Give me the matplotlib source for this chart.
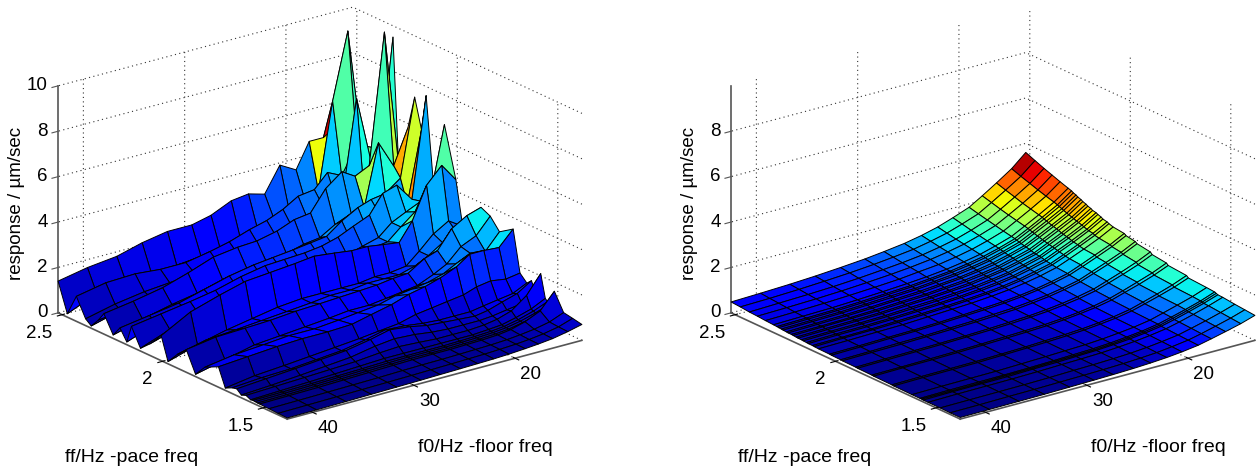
import numpy as np
from matplotlib import pyplot as plt
from mpl_toolkits.mplot3d import proj3d

plt.rcParams['font.family'] = ['Liberation Sans', 'DejaVu Sans']
plt.rcParams['grid.linestyle'] = (0, (1, 3))
plt.rcParams['grid.color'] = '#333333'
plt.rcParams['grid.linewidth'] = 0.8

# floor frequency grid, shared by both surfaces
f0_grid = [42.5, 39.6, 36.7, 34.2, 31.7, 29.3, 27.4, 25.4, 23.7, 22.1, 20.6, 19.0, 17.7, 16.3, 14.8, 13.4]

# measured response, one row per pace frequency
ff_measured = [2.52, 2.474, 2.429, 2.383, 2.355, 2.32, 2.292, 2.246, 2.212, 2.178, 2.155, 2.11, 2.064, 2.007,
               1.973, 1.927, 1.882, 1.836, 1.79, 1.722, 1.688, 1.654, 1.631, 1.608, 1.585, 1.562, 1.551, 1.54,
               1.528, 1.517, 1.471, 1.426, 1.38]
z_measured = [
    [1.4, 1.65, 1.8, 2.1, 2.3, 2.3, 2.5, 2.9, 3.0, 2.8, 3.9, 3.5, 4.6, 4.6, 5.0, 5.0],
    [.15, .7, .85, .95, 1.0, 1.1, 1.2, 1.4, 1.6, 1.9, 2.1, 2.3, 2.6, 6.4, 9.3, 4.0],
    [1.1, 1.35, 1.4, 1.3, 1.3, 1.5, 1.7, 2.0, 2.2, 2.5, 2.9, 3.0, 3.6, 3.3, 4.5, 4.2],
    [.3, .6, .8, .9, 1.0, 1.1, 1.3, 1.5, 1.7, 1.9, 2.1, 2.4, 2.5, 2.9, 3.6, 5.0],
    [.1, .45, .7, .85, 1.0, 1.2, 1.4, 1.5, 1.7, 1.9, 2.2, 2.6, 2.8, 7.0, 3.9, 4.0],
    [.5, .7, .9, 1.1, 1.3, 1.5, 1.7, 1.8, 2.0, 2.2, 2.6, 3.0, 3.0, 3.2, 3.8, 9.5],
    [.9, 1.1, 1.35, 1.7, 2.1, 2.25, 2.3, 2.5, 2.8, 2.9, 3.8, 4.35, 4.0, 4.3, 10.0, 4.0],
    [.15, .5, .8, 1.0, 1.3, 1.5, 1.6, 1.7, 1.9, 2.0, 2.4, 2.7, 2.8, 5.5, 4.3, 5.8],
    [.6, .8, 1.0, 1.3, 1.6, 1.8, 1.9, 2.0, 2.1, 2.2, 2.7, 3.1, 3.3, 3.4, 3.9, 7.3],
    [.12, .6, .9, 1.1, 1.3, 1.5, 1.6, 1.7, 1.8, 1.9, 2.2, 2.5, 2.9, 3.0, 2.9, 6.0],
    [.9, 1.1, 1.3, 1.5, 1.8, 2.0, 2.05, 2.1, 2.2, 2.4, 2.7, 3.0, 3.8, 4.0, 3.2, 7.6],
    [.12, .6, .9, 1.1, 1.2, 1.4, 1.5, 1.6, 1.7, 1.8, 2.0, 2.2, 2.7, 3.0, 3.3, 3.0],
    [.5, .9, 1.2, 1.5, 1.7, 1.8, 1.9, 1.9, 2.0, 2.0, 2.1, 2.2, 2.7, 3.2, 3.7, 6.7],
    [1.1, 1.8, 2.2, 2.5, 2.6, 2.7, 2.8, 2.7, 2.6, 2.6, 2.5, 2.4, 3.2, 4.6, 5.3, 4.5],
    [.1, .5, .8, 1.0, 1.2, 1.3, 1.3, 1.3, 1.3, 1.4, 1.4, 1.5, 2.0, 2.6, 3.0, 2.6],
    [.6, .9, 1.0, 1.1, 1.2, 1.3, 1.4, 1.4, 1.5, 1.5, 1.5, 1.7, 2.0, 2.4, 2.6, 2.3],
    [1.0, 1.2, 1.25, 1.3, 1.4, 1.45, 1.5, 1.55, 1.6, 1.7, 1.75, 2.2, 2.4, 3.2, 3.6, 3.8],
    [.1, .4, .7, .8, .9, 1.0, 1.1, 1.1, 1.2, 1.3, 1.4, 1.7, 2.0, 2.6, 2.9, 3.6],
    [.6, .8, .9, 1.0, 1.0, 1.1, 1.2, 1.3, 1.5, 1.6, 1.7, 1.9, 2.2, 2.5, 2.4, 3.1],
    [.9, 1.0, 1.1, 1.15, 1.15, 1.2, 1.4, 1.6, 1.85, 2.0, 2.2, 2.5, 2.9, 2.9, 2.85, 3.5],
    [.1, .3, .4, .5, .6, .7, .8, .9, 1.1, 1.2, 1.3, 1.4, 1.6, 1.7, 1.6, 1.7],
    [.25, .35, .4, .5, .6, .8, 1.0, .95, .85, .8, .8, .8, .9, 1.0, 1.1, 1.4],
    [.3, .4, .5, .6, .7, .9, 1.1, 1.0, .85, .8, .75, .7, .8, 1.0, 1.2, 1.6],
    [.12, .2, .3, .4, .5, .7, .8, .75, .65, .6, .6, .6, .65, .75, .85, 1.1],
    [.2, .25, .3, .35, .4, .5, .55, .5, .45, .45, .45, .5, .6, .8, 1.3, 2.1],
    [.1, .15, .2, .25, .3, .35, .35, .35, .35, .35, .35, .4, .45, .6, .8, 1.1],
    [.12, .14, .17, .2, .23, .27, .28, .28, .28, .3, .32, .36, .42, .55, .75, 1.0],
    [.11, .13, .16, .19, .22, .25, .27, .27, .27, .29, .31, .35, .41, .53, .72, .95],
    [.1, .12, .15, .18, .21, .24, .26, .26, .26, .28, .3, .34, .4, .52, .7, .9],
    [.1, .12, .14, .17, .2, .23, .25, .26, .26, .28, .3, .34, .42, .6, .9, 1.6],
    [.08, .1, .12, .14, .16, .19, .21, .22, .24, .26, .28, .32, .38, .46, .6, .85],
    [.06, .08, .1, .12, .14, .16, .18, .2, .22, .24, .27, .31, .36, .44, .57, .78],
    [.05, .06, .08, .1, .12, .14, .16, .18, .2, .22, .25, .3, .35, .42, .55, .7],
]

# fitted response, one row per pace frequency
ff_fitted = [2.52, 2.474, 2.429, 2.389, 2.349, 2.309, 2.292, 2.283, 2.27, 2.261, 2.245, 2.236, 2.22, 2.211, 2.196,
             2.187, 2.17, 2.161, 2.145, 2.136, 2.115, 2.106, 2.085, 2.03, 2.021, 1.975, 1.966, 1.9, 1.891, 1.82,
             1.811, 1.72, 1.711, 1.62, 1.58, 1.572, 1.564, 1.54, 1.48, 1.43, 1.38]
z_fitted = [
    [.48, .52, .57, .63, .71, .80, .90, 1.02, 1.17, 1.35, 1.58, 1.85, 2.20, 2.60, 3.05, 3.60],
    [.45, .48, .53, .59, .66, .75, .84, .95, 1.10, 1.27, 1.49, 1.75, 2.09, 2.47, 2.90, 3.43],
    [.41, .45, .49, .54, .61, .70, .78, .89, 1.03, 1.19, 1.40, 1.66, 1.98, 2.35, 2.77, 3.27],
    [.39, .42, .46, .51, .58, .66, .74, .85, .98, 1.13, 1.33, 1.58, 1.89, 2.24, 2.65, 3.14],
    [.36, .39, .43, .48, .54, .61, .70, .79, .92, 1.07, 1.26, 1.50, 1.81, 2.15, 2.54, 3.01],
    [.34, .37, .40, .45, .51, .58, .65, .75, .87, 1.01, 1.20, 1.43, 1.73, 2.06, 2.44, 2.89],
    [.33, .36, .39, .44, .50, .56, .64, .73, .85, .99, 1.17, 1.40, 1.69, 2.02, 2.39, 2.84],
    [.32, .35, .38, .43, .49, .55, .63, .72, .83, .97, 1.15, 1.37, 1.66, 1.98, 2.35, 2.79],
    [.31, .34, .37, .42, .48, .53, .61, .70, .81, .94, 1.12, 1.34, 1.63, 1.95, 2.31, 2.75],
    [.30, .33, .36, .41, .46, .52, .60, .68, .79, .92, 1.10, 1.31, 1.60, 1.91, 2.27, 2.70],
    [.29, .32, .35, .39, .45, .51, .58, .66, .77, .90, 1.07, 1.28, 1.56, 1.87, 2.22, 2.65],
    [.28, .31, .34, .38, .44, .49, .57, .65, .75, .87, 1.05, 1.26, 1.53, 1.84, 2.18, 2.60],
    [.28, .30, .33, .37, .43, .48, .55, .63, .73, .85, 1.03, 1.23, 1.50, 1.81, 2.15, 2.55],
    [.27, .30, .33, .36, .42, .47, .54, .61, .71, .83, 1.00, 1.20, 1.47, 1.77, 2.11, 2.50],
    [.26, .29, .32, .35, .41, .46, .52, .60, .70, .82, .98, 1.17, 1.44, 1.73, 2.07, 2.46],
    [.25, .28, .31, .34, .40, .45, .51, .58, .69, .80, .96, 1.15, 1.41, 1.70, 2.04, 2.41],
    [.25, .28, .30, .33, .39, .44, .50, .57, .67, .78, .94, 1.13, 1.39, 1.67, 2.00, 2.38],
    [.24, .27, .29, .32, .37, .42, .48, .55, .65, .76, .92, 1.11, 1.36, 1.64, 1.96, 2.34],
    [.23, .26, .28, .31, .36, .41, .46, .54, .63, .74, .90, 1.08, 1.33, 1.60, 1.92, 2.29],
    [.22, .25, .27, .30, .35, .40, .45, .52, .61, .72, .87, 1.05, 1.30, 1.57, 1.89, 2.24],
    [.22, .24, .26, .30, .34, .39, .44, .51, .60, .71, .86, 1.03, 1.27, 1.54, 1.86, 2.20],
    [.21, .24, .26, .29, .33, .38, .43, .50, .58, .69, .83, 1.01, 1.24, 1.51, 1.81, 2.16],
    [.20, .22, .25, .27, .32, .37, .41, .48, .56, .67, .80, .98, 1.21, 1.47, 1.77, 2.10],
    [.19, .21, .24, .26, .30, .35, .40, .46, .54, .64, .77, .94, 1.17, 1.43, 1.71, 2.04],
    [.18, .20, .23, .25, .29, .34, .38, .44, .52, .62, .74, .91, 1.13, 1.38, 1.66, 1.98],
    [.17, .19, .22, .24, .28, .32, .37, .42, .50, .59, .71, .87, 1.09, 1.33, 1.60, 1.91],
    [.16, .18, .20, .23, .26, .30, .34, .39, .47, .56, .68, .84, 1.05, 1.28, 1.55, 1.85],
    [.15, .17, .19, .21, .24, .28, .32, .37, .44, .53, .64, .79, .99, 1.21, 1.47, 1.76],
    [.14, .16, .18, .20, .23, .26, .30, .35, .41, .50, .60, .75, .94, 1.15, 1.40, 1.68],
    [.13, .14, .16, .18, .21, .25, .28, .32, .38, .46, .56, .71, .89, 1.10, 1.33, 1.60],
    [.12, .14, .15, .17, .20, .23, .26, .30, .36, .44, .53, .67, .85, 1.04, 1.27, 1.53],
    [.11, .13, .14, .15, .18, .21, .25, .29, .34, .41, .50, .63, .80, .99, 1.21, 1.46],
    [.10, .12, .13, .14, .17, .20, .23, .27, .32, .39, .47, .60, .76, .94, 1.15, 1.39],
    [.09, .11, .12, .13, .16, .19, .22, .25, .30, .37, .45, .57, .73, .91, 1.11, 1.34],
    [.09, .11, .12, .13, .15, .18, .21, .24, .29, .36, .44, .56, .71, .88, 1.08, 1.31],
    [.09, .10, .11, .13, .15, .18, .20, .23, .28, .35, .43, .54, .69, .86, 1.06, 1.28],
    [.08, .10, .11, .12, .15, .17, .20, .23, .28, .34, .42, .53, .67, .84, 1.04, 1.25],
    [.08, .10, .11, .12, .14, .17, .19, .22, .27, .33, .41, .52, .66, .83, 1.03, 1.24],
    [.08, .09, .10, .11, .13, .16, .18, .21, .25, .31, .39, .49, .63, .79, .98, 1.18],
    [.07, .08, .10, .11, .13, .15, .17, .20, .24, .29, .37, .47, .60, .76, .94, 1.14],
    [.07, .08, .09, .10, .12, .14, .16, .19, .23, .28, .35, .45, .58, .73, .90, 1.10],
]

ff_ticks = [1.5, 2, 2.5]
f0_ticks = [20, 30, 40]

FF_MIN, FF_MAX = 1.38, 2.52
F0_MIN, F0_MAX = 13.4, 42.5
Z_MAX = 10

FIG_W = 1257
FIG_H = 471
AXIS_COLOR = '#555555'


def draw_z_axis(ax, z_ticks):
    # matplotlib keeps its z axis on the right for this view, so draw it on the left corner
    ax.plot([FF_MAX, FF_MAX], [F0_MAX, F0_MAX], [0, Z_MAX], color=AXIS_COLOR, lw=1.2)
    proj = ax.get_proj()
    for z in z_ticks:
        ax.plot([FF_MAX, FF_MAX], [F0_MAX, F0_MAX + 0.6], [z, z], color=AXIS_COLOR, lw=0.8)
        # text2D keeps a real 2d position, a 3d text reports a wrong one
        x2, y2, _ = proj3d.proj_transform(FF_MAX, F0_MAX + 1.0, z + 0.12, proj)
        ax.text2D(x2, y2, str(z), transform=ax.transData, ha='right', va='center', fontsize=13.5)


def draw_panel(fig, left_px, ff_values, z_rows, z_ticks):
    # axes box is larger than the figure on purpose, the 3d box sits inside it
    size = 565.5
    ax = fig.add_axes([left_px / FIG_W, -32.5 / FIG_H, size / FIG_W, size / FIG_H], projection='3d')
    ax.set_proj_type('ortho')
    ax.view_init(elev=20.6, azim=142.8)
    ax.set_box_aspect((379, 370, 242.5))
    ax.patch.set_alpha(0)

    X, Y = np.meshgrid(ff_values, f0_grid, indexing='ij')
    Z = np.array(z_rows)

    # each cell takes the colour of one corner only, like matlab surf
    norm = plt.Normalize(Z.min(), Z.max())
    corner = np.roll(np.roll(Z, -1, axis=0), -1, axis=1)
    colors = plt.cm.jet(norm(corner))
    ax.plot_surface(X, Y, Z, rstride=1, cstride=1, facecolors=colors, shade=False,
                    edgecolor='black', linewidth=0.7, antialiased=True)

    ax.set_xlim(FF_MIN, FF_MAX)
    ax.set_ylim(F0_MIN, F0_MAX)
    ax.set_zlim(0, Z_MAX)
    ax.set_xticks(ff_ticks)
    ax.set_xticklabels(['1.5', '2', '2.5'], ha='right')
    ax.set_yticks(f0_ticks)
    ax.set_yticklabels(['20', '30', '40'], ha='left')
    ax.set_zticks(z_ticks)
    ax.set_zticklabels([])

    for axis in (ax.xaxis, ax.yaxis, ax.zaxis):
        axis.set_pane_color((1, 1, 1, 0))
        axis.pane.set_edgecolor((1, 1, 1, 0))
        axis.line.set_color(AXIS_COLOR)
        axis.line.set_linewidth(1.2)
    ax.zaxis.line.set_color((1, 1, 1, 0))
    ax.tick_params(axis='x', labelsize=13.5, pad=-1)
    ax.tick_params(axis='y', labelsize=13.5, pad=-3)
    ax.tick_params(axis='z', color=(1, 1, 1, 0))
    draw_z_axis(ax, z_ticks)
    return ax


def add_labels(fig, dx):
    fig.text((131.5 + dx) / FIG_W, 1 - 457 / FIG_H, 'ff/Hz -pace freq', ha='center', va='center', fontsize=14)
    fig.text((485 + dx) / FIG_W, 1 - 447 / FIG_H, 'f0/Hz -floor freq', ha='center', va='center', fontsize=14)
    fig.text((17 + dx) / FIG_W, 1 - 203 / FIG_H, 'response / \u00b5m/sec', ha='center', va='center',
             rotation=90, fontsize=13.5)


def main():
    fig = plt.figure(figsize=(FIG_W / 100, FIG_H / 100), dpi=100)
    draw_panel(fig, 29.6, ff_measured, z_measured, [0, 2, 4, 6, 8, 10])
    draw_panel(fig, 702.6, ff_fitted, z_fitted, [0, 2, 4, 6, 8])
    add_labels(fig, 0)
    add_labels(fig, 673)
    fig.savefig('out.png', dpi=100)


if __name__ == "__main__":
    main()
